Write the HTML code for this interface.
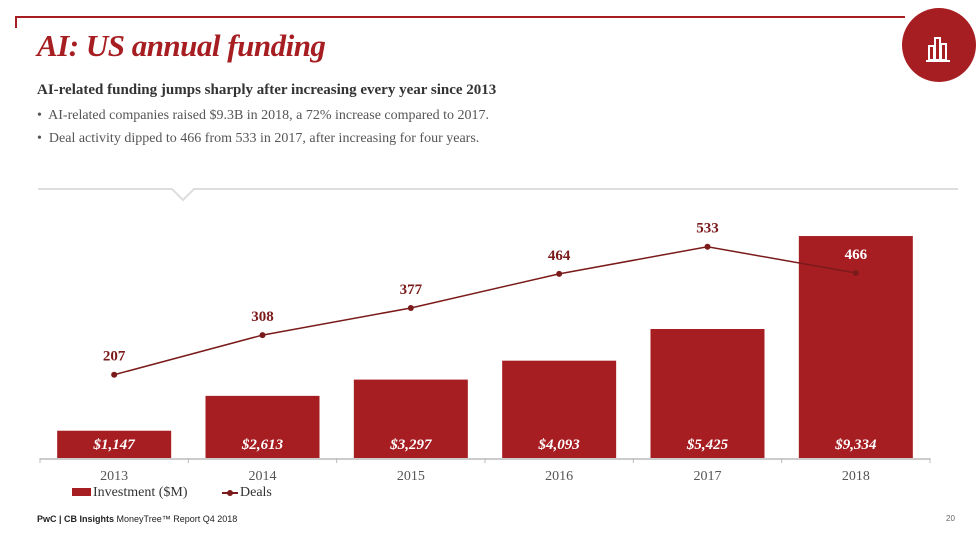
<!DOCTYPE html>
<html><head><meta charset="utf-8"><style>
body{margin:0;width:979px;height:548px;background:#fff;overflow:hidden;font-family:"Liberation Serif",serif;position:relative}
.abs{position:absolute}
</style></head><body>
<div class="abs" style="left:15px;top:16px;width:890px;height:2px;background:#a71e22"></div>
<div class="abs" style="left:15px;top:16px;width:2px;height:12px;background:#a71e22"></div>
<div class="abs" style="left:902px;top:8px;width:74px;height:74px;border-radius:50%;background:#a71e22">
<svg width="74" height="74"><g fill="none" stroke="#fff" stroke-width="2"><rect x="27" y="38" width="5" height="14"/><rect x="33" y="30" width="5" height="22"/><rect x="39" y="36" width="5" height="16"/><line x1="24" y1="53" x2="48" y2="53"/></g></svg></div>
<div class="abs" style="left:37px;top:28px;font-size:31px;font-weight:bold;font-style:italic;color:#a71e22;letter-spacing:-0.5px">AI: US annual funding</div>
<div class="abs" style="left:37px;top:82px;font-size:15px;font-weight:bold;color:#333">AI-related funding jumps sharply after increasing every year since 2013</div>
<div class="abs" style="left:37px;top:108px;font-size:14px;color:#555">•&nbsp; AI-related companies raised $9.3B in 2018, a 72% increase compared to 2017.</div>
<div class="abs" style="left:37px;top:131px;font-size:14px;color:#555">•&nbsp; Deal activity dipped to 466 from 533 in 2017, after increasing for four years.</div>
<svg class="abs" style="left:0;top:0" width="979" height="548"><polyline points="38,189 172,189 183,200 194,189 958,189" fill="none" stroke="#ddd" stroke-width="2"/></svg>
<svg id="chart" class="abs" style="left:0;top:0" width="979" height="548"></svg>
<div class="abs" style="left:72px;top:485px;font-size:14px;color:#333"><span style="display:inline-block;width:19px;height:8px;background:#a71e22;margin-right:2px"></span>Investment ($M)</div>
<div class="abs" style="left:222px;top:485px;font-size:14px;color:#333"><span style="display:inline-block;width:16px;height:2px;background:#7b1a1a;vertical-align:middle;position:relative;margin-right:2px"><span style="position:absolute;left:5px;top:-2px;width:6px;height:6px;background:#7b1a1a;border-radius:50%"></span></span>Deals</div>
<div class="abs" style="left:37px;top:514px;font-family:'Liberation Sans',sans-serif;font-size:9px;color:#222"><b>PwC | CB Insights</b> MoneyTree™ Report Q4 2018</div>
<div class="abs" style="left:946px;top:514px;font-family:'Liberation Sans',sans-serif;font-size:8px;color:#666">20</div>
<script>
const years=["2013","2014","2015","2016","2017","2018"];
const investment=[1147,2613,3297,4093,5425,9334];
const investmentLabels=["$1,147","$2,613","$3,297","$4,093","$5,425","$9,334"];
const deals=[207,308,377,464,533,466];
const NS="http://www.w3.org/2000/svg",svg=document.getElementById('chart');
const x0=40,x1=930,base=458,bw=(x1-x0)/years.length;
const yBar=v=>base-v*0.02378, yDeal=v=>456-v*0.3926, xc=i=>x0+bw*(i+0.5);
function mk(t,a,txt){const e=document.createElementNS(NS,t);for(const k in a)e.setAttribute(k,a[k]);if(txt!=null)e.textContent=txt;svg.appendChild(e);return e;}
years.forEach((y,i)=>{
 const r=mk('rect',{x:xc(i)-57,y:yBar(investment[i]),width:114,height:base-yBar(investment[i]),fill:'#a71e22'});
 
 
 const t=mk('text',{x:xc(i),y:449,'text-anchor':'middle','font-size':15,'font-weight':'bold','font-style':'italic',fill:'#fff'},investmentLabels[i]);
 
 
 const xl=mk('text',{x:xc(i),y:480,'text-anchor':'middle','font-size':14,fill:'#555'},y);
 
 
});
const ax=mk('line',{x1:x0,x2:x1,y1:base+1,y2:base+1,stroke:'#bbb','stroke-width':1.5});


for(let i=0;i<=years.length;i++){const tk=mk('line',{x1:x0+bw*i,x2:x0+bw*i,y1:base,y2:base+5,stroke:'#bbb'});
 
 }
const pl=mk('polyline',{points:deals.map((d,i)=>xc(i)+','+yDeal(d)).join(' '),fill:'none',stroke:'#7b1a1a','stroke-width':1.5});


deals.forEach((d,i)=>{
 const c=mk('circle',{cx:xc(i),cy:yDeal(d),r:3,fill:'#7b1a1a'});
 
 
 const t=mk('text',{x:xc(i),y:yDeal(d)-14,'text-anchor':'middle','font-size':15,'font-weight':'bold',fill:i==5?'#fff':'#7b1a1a'},d);
 
 
});
</script>
</body></html>
